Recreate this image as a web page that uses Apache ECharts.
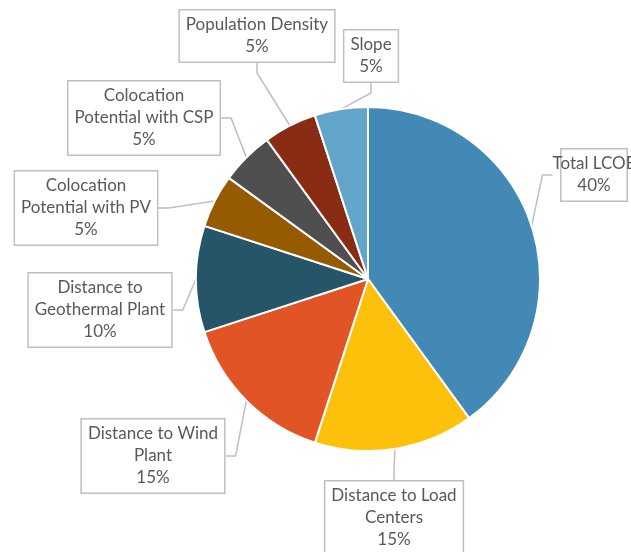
<!DOCTYPE html>
<html><head><meta charset="utf-8">
<script src="https://cdn.jsdelivr.net/npm/echarts@6/dist/echarts.min.js"></script>
<style>html,body{margin:0;padding:0;background:#fff;}#c{width:631px;height:552px;}</style>
</head><body><div id="c"></div>
<script>
var categories = ["Total LCOE", "Distance to Load\nCenters", "Distance to Wind\nPlant", "Distance to\nGeothermal Plant", "Colocation\nPotential with PV", "Colocation\nPotential with CSP", "Population Density", "Slope"];
var values = [40, 15, 15, 10, 5, 5, 5, 5];
var colors = ["#428AB5", "#FDC10C", "#E05426", "#265469", "#965A00", "#4F4F4F", "#8A2C14", "#63A4C9"];
// label box centres (layout only)
var labelPos = [[594, 175], [394, 518], [153, 456], [100, 310], [86, 208], [144, 118], [257, 36], [371, 56]];

var chart = echarts.init(document.getElementById('c'), null, {renderer: 'canvas'});
var data = categories.map(function (c, i) {
  return {name: c, value: values[i], itemStyle: {color: colors[i]}};
});
chart.setOption({
  animation: false,
  backgroundColor: '#fff',
  series: [{
    type: 'pie',
    center: [368, 279],
    radius: [0, 172],
    startAngle: 90,
    clockwise: true,
    data: data,
    itemStyle: {borderColor: '#fff', borderWidth: 2},
    label: {
      formatter: '{b}\n{d}%',
      color: '#595959',
      fontFamily: 'Lato',
      fontSize: 17,
      lineHeight: 22,
      align: 'center',
      overflow: 'none',
      backgroundColor: '#fff',
      borderColor: '#BFBFBF',
      borderWidth: 1.5,
      padding: [4, 6, 3, 6]
    },
    labelLine: {show: true, lineStyle: {color: '#BFBFBF', width: 1.5}, length: 10, length2: 10},
    labelLayout: function (p) {
      var pos = labelPos[p.dataIndex];
      return {x: pos[0], y: pos[1], align: 'center', verticalAlign: 'middle'};
    }
  }]
});
</script></body></html>
